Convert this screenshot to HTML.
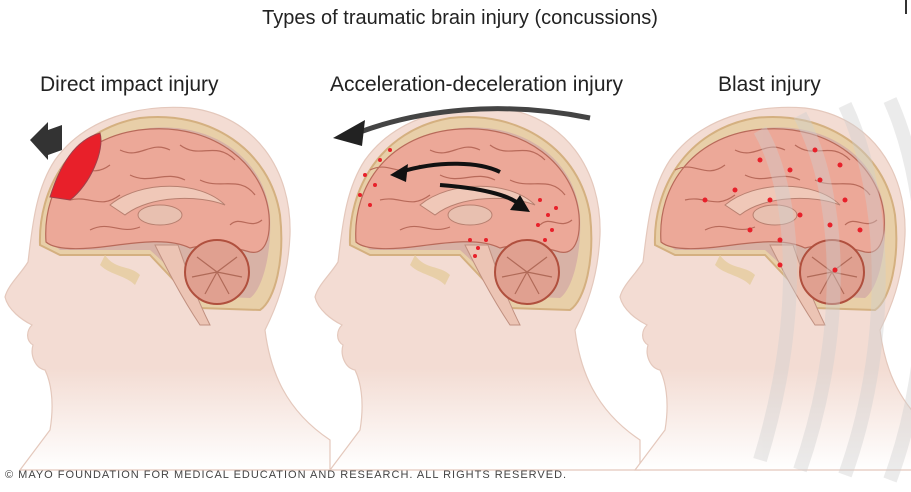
<!DOCTYPE html>
<html><head><meta charset="utf-8"><style>
body{margin:0;background:#fff;width:911px;height:492px;overflow:hidden;font-family:"Liberation Sans",sans-serif}
svg{position:absolute;left:0;top:0}
</style></head><body>
<svg width="911" height="492" viewBox="0 0 911 492">
<defs>
<linearGradient id="fade" x1="0" y1="0" x2="0" y2="1">
<stop offset="0.72" stop-color="#f3dcd3"/><stop offset="1" stop-color="#fff"/>
</linearGradient>
<g id="head">
<path d="M20,470 L50,430 C55,400 50,380 45,370 C35,368 30,355 33,345 C25,340 27,330 32,325 C22,320 8,310 5,297 C8,285 20,275 28,262 C32,230 35,190 55,160 C85,118 140,104 190,108 C255,116 292,170 290,235 C288,280 275,310 265,330 C270,370 285,410 330,440 L330,470 Z" fill="url(#fade)" stroke="#e4c8bc" stroke-width="1.2"/>
<path d="M40,245 C38,190 70,130 140,118 C210,110 270,150 280,215 C285,260 275,300 260,310 L200,308 L150,255 L60,255 Z" fill="#e8cfa8" stroke="#d4b080" stroke-width="2"/>
<path d="M48,240 C45,185 80,138 150,128 C215,122 265,160 270,215 C272,255 262,290 250,298 L200,296 L150,250 L60,250 Z" fill="#d8b2a6"/>
<path d="M46,242 C42,185 80,133 150,129 C215,125 264,165 269,215 C271,240 264,255 250,252 C230,246 205,244 190,248 C170,238 140,242 110,246 C80,250 55,250 46,242 Z" fill="#eca898" stroke="#b86a5a" stroke-width="1.2"/>
<path d="M60,170 C80,160 90,180 110,165 M120,150 C140,160 150,140 170,150 M180,145 C200,160 215,140 235,160 M70,200 C90,195 100,210 120,195 M200,180 C220,190 240,175 255,195 M90,230 C110,220 120,235 140,227 M230,225 C240,215 250,230 262,220 M130,175 C150,185 165,170 185,180" fill="none" stroke="#b86a5a" stroke-width="1.2"/>
<path d="M110,205 C140,180 200,180 225,205 C200,195 150,195 125,215 Z" fill="#f0c8b8" stroke="#b88070"/>
<ellipse cx="160" cy="215" rx="22" ry="10" fill="#e8c0b0" stroke="#b88070"/>
<path d="M155,245 C165,265 180,295 200,325 L210,325 C195,295 185,265 178,245 Z" fill="#ecc4b4" stroke="#c09080"/>
<circle cx="217" cy="272" r="32" fill="#e0a090" stroke="#b0503e" stroke-width="2"/>
<path d="M217,272 l-20,-15 M217,272 l20,-15 M217,272 l-25,5 M217,272 l25,5 M217,272 l-12,22 M217,272 l12,22" stroke="#b06a58" stroke-width="1.2"/>
<path d="M105,255 C115,270 130,265 140,275 L135,285 C125,275 110,275 100,265 Z" fill="#e8cfa8"/>
</g>
</defs>
<text x="460" y="24" font-size="20" text-anchor="middle" fill="#222">Types of traumatic brain injury (concussions)</text>
<text x="40" y="91" font-size="21" fill="#222">Direct impact injury</text>
<text x="330" y="91" font-size="21" fill="#222">Acceleration-deceleration injury</text>
<text x="718" y="91" font-size="21" fill="#222">Blast injury</text>
<use href="#head"/>
<use href="#head" x="310"/>
<use href="#head" x="615"/>
<path d="M50,197 C60,165 75,140 100,133 C105,150 90,185 70,200 Z" fill="#e8202a" stroke="#a0404a"/>
<path d="M30,140 L48,122 L48,130 L62,125 L62,150 L48,155 L48,160 Z" fill="#333"/>
<path d="M590,118 C500,100 420,110 360,132" fill="none" stroke="#444" stroke-width="5"/>
<path d="M333,138 L365,120 L362,146 Z" fill="#222"/>
<path d="M400,172 C440,160 480,162 500,172" fill="none" stroke="#111" stroke-width="4"/>
<path d="M390,175 L408,164 L406,182 Z" fill="#111"/>
<path d="M440,185 C480,188 510,195 520,205" fill="none" stroke="#111" stroke-width="4"/>
<path d="M530,212 L510,210 L520,195 Z" fill="#111"/>
<g fill="#e8202a">
<circle cx="365" cy="175" r="2"/><circle cx="375" cy="185" r="2"/><circle cx="360" cy="195" r="2"/><circle cx="380" cy="160" r="2"/><circle cx="390" cy="150" r="2"/><circle cx="370" cy="205" r="2"/>
<circle cx="540" cy="200" r="2"/><circle cx="548" cy="215" r="2"/><circle cx="552" cy="230" r="2"/><circle cx="538" cy="225" r="2"/><circle cx="545" cy="240" r="2"/><circle cx="556" cy="208" r="2"/>
<circle cx="470" cy="240" r="2"/><circle cx="478" cy="248" r="2"/><circle cx="486" cy="240" r="2"/><circle cx="475" cy="256" r="2"/>
</g>
<g fill="none" stroke="#cfcfcf" stroke-width="14" opacity="0.4">
<path d="M760,130 C800,200 800,330 760,460"/>
<path d="M800,115 C845,200 845,340 800,470"/>
<path d="M845,105 C890,200 890,350 845,475"/>
<path d="M890,100 C935,200 935,360 890,480"/>
</g>
<g fill="#e8202a">
<circle cx="760" cy="160" r="2.5"/><circle cx="790" cy="170" r="2.5"/><circle cx="820" cy="180" r="2.5"/><circle cx="845" cy="200" r="2.5"/><circle cx="770" cy="200" r="2.5"/><circle cx="800" cy="215" r="2.5"/><circle cx="830" cy="225" r="2.5"/><circle cx="860" cy="230" r="2.5"/><circle cx="750" cy="230" r="2.5"/><circle cx="780" cy="240" r="2.5"/><circle cx="815" cy="150" r="2.5"/><circle cx="840" cy="165" r="2.5"/><circle cx="780" cy="265" r="2.5"/><circle cx="835" cy="270" r="2.5"/><circle cx="735" cy="190" r="2.5"/><circle cx="705" cy="200" r="2.5"/>
</g>
<text x="5" y="478" font-size="11" fill="#444" letter-spacing="1">© MAYO FOUNDATION FOR MEDICAL EDUCATION AND RESEARCH. ALL RIGHTS RESERVED.</text>
<rect x="905" y="0" width="2" height="14" fill="#333"/>
</svg>
</body></html>
